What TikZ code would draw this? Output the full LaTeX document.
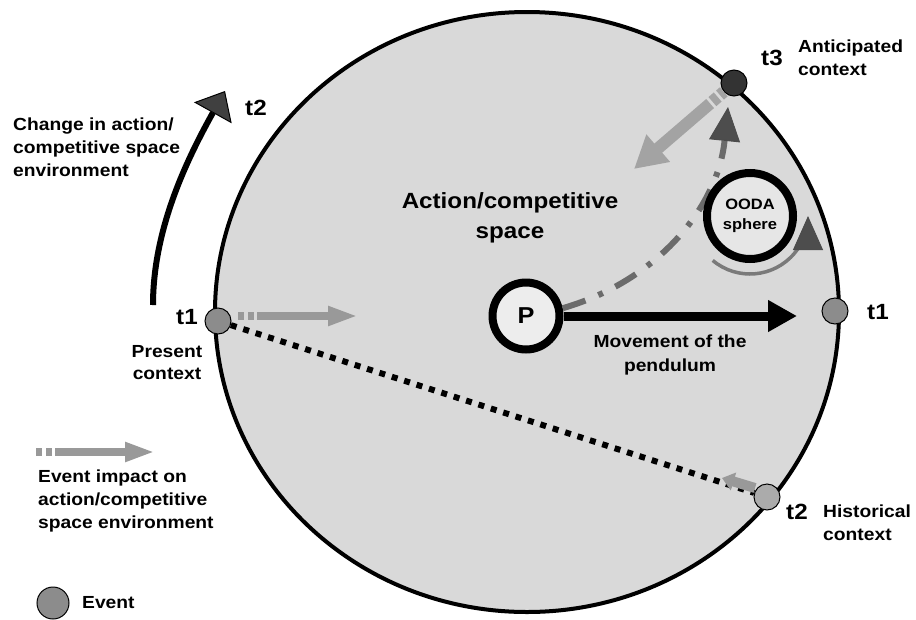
\documentclass[tikz,border=0pt]{standalone}
\usepackage{fontspec}
\setmainfont{Liberation Sans}[FakeStretch=1.1]
\usetikzlibrary{arrows.meta}

\definecolor{spacefill}{HTML}{D9D9D9}
\definecolor{pfill}{HTML}{EDEDED}
\definecolor{oodafill}{HTML}{E6E6E6}
\definecolor{impactgray}{HTML}{999999}
\definecolor{bigimpact}{HTML}{A3A3A3}
\definecolor{ddgray}{HTML}{6B6B6B}
\definecolor{arcgray}{HTML}{7A7A7A}
\definecolor{tipdark}{HTML}{4D4D4D}
\definecolor{evmid}{HTML}{8C8C8C}
\definecolor{evdark}{HTML}{333333}
\definecolor{evlight}{HTML}{ABABAB}

\begin{document}
\begin{tikzpicture}[x=1pt,y=-1pt,
  lbl/.style={font=\fontsize{17.5}{23}\selectfont\bfseries, inner sep=0pt},
  tlbl/.style={font=\fontsize{22}{26}\selectfont\bfseries, inner sep=0pt},
  eventdot/.style={circle, draw=black, line width=1pt, minimum size=26pt, inner sep=0pt},
  impact/.style={draw=impactgray, line width=8pt,
    dash pattern=on 6pt off 4pt on 6pt off 3pt on 400pt,
    -{Triangle[length=30pt,width=18pt]}},
  darktip/.style={-{Triangle[length=#1, line width=1pt, color=black!75, fill=tipdark]}},
]
\useasboundingbox (0,0) rectangle (916,619);

% action/competitive space
\filldraw[fill=spacefill, line width=4pt] (527,312) ellipse [x radius=312, y radius=300];

% events on the rim
\node[eventdot, fill=evmid]   (e1)  at (218,321) {};
\node[eventdot, fill=evmid]   (e1r) at (835,311) {};
\node[eventdot, fill=evdark]  (e3)  at (734,83)  {};
\node[eventdot, fill=evlight] (e2)  at (767,497) {};

% pendulum and OODA sphere
\node[circle, draw=black, line width=8pt, fill=pfill, minimum size=67pt, inner sep=0pt,
      font=\fontsize{23}{26}\selectfont\bfseries] (P) at (526,316) {P};
\coordinate (pendtip) at (797,316);
\coordinate (t3tip) at (728,107);

% path from the pendulum towards the anticipated context
\draw[draw=ddgray, line width=6pt, dash pattern=on 24pt off 14pt on 5pt off 14pt,
      -{Triangle[length=34pt,width=31pt,line width=1pt,color=black!70,fill=tipdark]}]
  (P.12) .. controls (660,280) and (718,205) .. (t3tip);

\node[circle, draw=black, line width=8pt, fill=oodafill, minimum size=86pt, inner sep=0pt,
      font=\fontsize{15}{20}\selectfont\bfseries, align=center] (O) at (750,216) {OODA\\sphere};

\draw[draw=arcgray, line width=3.5pt,
      -{Triangle[length=34pt,width=30pt,line width=1pt,color=black!70,fill=tipdark]}]
  (O) ++(130:58) arc[start angle=130, end angle=0, radius=58];

% movement of the pendulum
\draw[line width=9pt, -{Triangle[length=29pt,width=30pt]}] (P) -- (pendtip);

% historical line
\draw[line width=6pt, dash pattern=on 6pt off 7pt] (e1) -- (e2);

% event impact arrows
\coordinate (imp1a) at (238,316);
\coordinate (imp1b) at (358,316);
\draw[impact] (imp1a) -- (imp1b);

\coordinate (bigtip) at (634,169);
\draw[draw=bigimpact, line width=12pt,
      dash pattern=on 5pt off 3pt on 7pt off 3pt on 400pt,
      -{Triangle[length=32pt,width=34pt]}] (e3) -- (bigtip);

\coordinate (histA) at (755,488);
\coordinate (histB) at (722,478);
\draw[draw=impactgray, line width=10pt, -{Triangle[length=12pt,width=18pt]}] (histA) -- (histB);

% change of the environment
\coordinate (chgA) at (153,305);
\coordinate (chgB) at (225,91);
\draw[line width=6pt,
      -{Triangle[length=25pt,width=43pt,line width=1pt,color=black,fill=black!75]}]
  (chgA) .. controls (153,230) and (186,161) .. (chgB);

% labels
\node[lbl, anchor=west, align=left] (chg) at (13,147)
  {Change in action/\\competitive space\\environment};
\node[tlbl] (lt2a) at (256,108) {t2};
\node[tlbl] (lt1) at (187,317) {t1};
\node[lbl, align=center, font=\fontsize{17.5}{22}\selectfont\bfseries] (pres) at (167,363) {Present\\context};
\node[tlbl] (lt1r) at (878,312) {t1};
\node[tlbl] (lt3) at (772,58) {t3};
\node[lbl, anchor=west, align=left] (ant) at (798,58) {Anticipated\\context};
\node[tlbl] (lt2b) at (797,512) {t2};
\node[lbl, anchor=west, align=left] (hist) at (823,523) {Historical\\context};
\node[align=center, inner sep=0pt, font=\fontsize{22}{30}\selectfont\bfseries] (acs) at (510,218)
  {Action/competitive\\space};
\node[lbl, align=center, font=\fontsize{17.5}{24}\selectfont\bfseries] (mov) at (670,355)
  {Movement of the\\pendulum};

% legend
\coordinate (legA) at (36,452);
\coordinate (legB) at (155,452);
\draw[impact] (legA) -- (legB);
\node[lbl, anchor=west, align=left] (legimp) at (38,501)
  {Event impact on\\action/competitive\\space environment};
\node[eventdot, fill=evmid, minimum size=32pt] (legev) at (53,603) {};
\node[lbl, anchor=west] (legevt) at (82,603) {Event};
\end{tikzpicture}
\end{document}
